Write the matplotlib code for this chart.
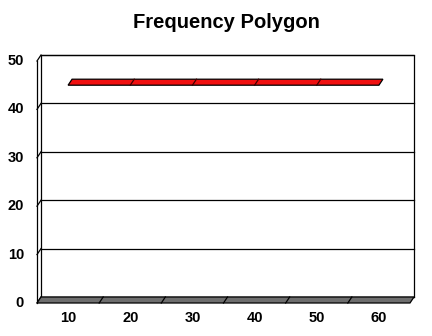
import numpy as np
import matplotlib
matplotlib.use("Agg")
import matplotlib.pyplot as plt
from matplotlib.patches import Polygon

# data
bins = [10, 20, 30, 40, 50, 60]
freq = [45, 45, 45, 45, 45, 45]
yticks = [0, 10, 20, 30, 40, 50]
title = "Frequency Polygon"

W, H = 432, 336
fig = plt.figure(figsize=(W / 100, H / 100), dpi=100)
# axes = front plane of the 3d box
ax = fig.add_axes([37 / W, 33 / H, 373 / W, 242 / H])
n = len(bins)
ax.set_xlim(0.5, n + 0.5)
ax.set_ylim(0, 50)
ax.axis("off")

# depth offset (data units) of the back wall
dx = 4 / 373 * n
dy = 6 / 242 * 50
x0, x1 = 0.5, n + 0.5
ymax = yticks[-1]
lw = 0.9
kw = dict(clip_on=False)

# back wall
ax.add_patch(Polygon([(x0 + dx, dy), (x1 + dx, dy), (x1 + dx, ymax + dy), (x0 + dx, ymax + dy)],
                     closed=True, fc="white", ec="black", lw=lw, **kw))
# gridlines + left wall slants
for t in yticks:
    ax.plot([x0 + dx, x1 + dx], [t + dy, t + dy], color="black", lw=lw, **kw)
    ax.plot([x0, x0 + dx], [t, t + dy], color="black", lw=lw, **kw)
ax.plot([x0, x0], [0, ymax], color="black", lw=lw, **kw)

# floor
ax.add_patch(Polygon([(x0, 0), (x1, 0), (x1 + dx, dy), (x0 + dx, dy)],
                     closed=True, fc="#6e6e6e", ec="black", lw=lw, zorder=3, **kw))
for i in range(1, n):
    b = i + 0.5
    ax.plot([b, b + dx], [0, dy], color="black", lw=lw, zorder=4, **kw)

# polygon ribbon
xs = np.arange(1, n + 1)
fy = np.array(freq, dtype=float)
pts = list(zip(xs, fy)) + list(zip(xs[::-1] + dx, fy[::-1] + dy))
ax.add_patch(Polygon(pts, closed=True, fc="#f01010", ec="black", lw=lw, zorder=5, **kw))
for i in range(1, n - 1):
    ax.plot([xs[i], xs[i] + dx], [fy[i], fy[i] + dy], color="#400000", lw=lw, zorder=6, **kw)

# tick labels
for t in yticks:
    ax.text(x0 - 13 / 373 * n, t, str(t), ha="right", va="center",
            fontsize=10.5, fontweight="bold", family="Liberation Sans", **kw)
for x, b in zip(xs, bins):
    ax.text(x, -15 / 242 * 50, str(b), ha="center", va="center",
            fontsize=10.5, fontweight="bold", family="Liberation Sans", **kw)

fig.text(226 / W, 1 - 22 / H, title, ha="center", va="center",
         fontsize=14.5, fontweight="bold", family="Liberation Sans")

fig.savefig("out.png", dpi=100)
